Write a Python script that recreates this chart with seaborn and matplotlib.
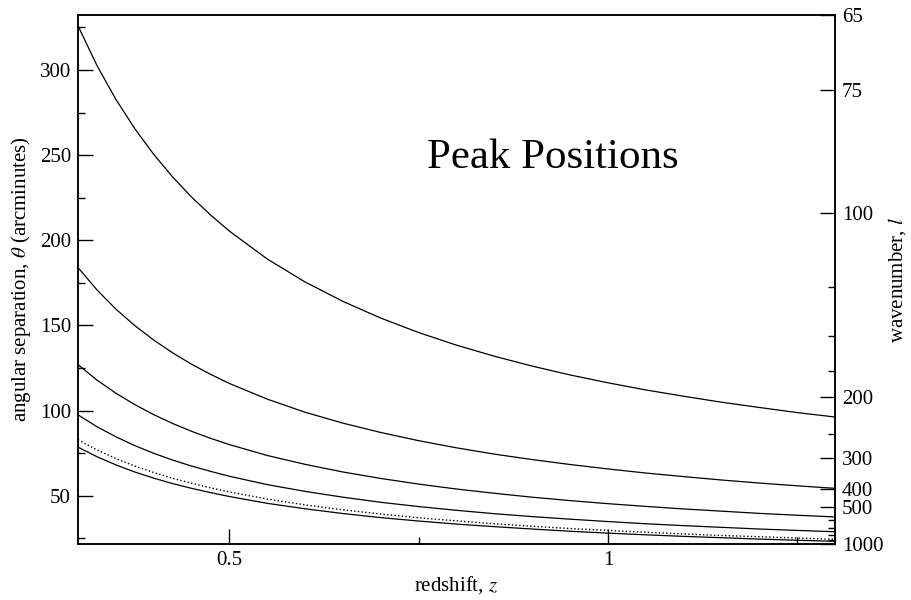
import numpy as np
import pandas as pd
import matplotlib
matplotlib.use("Agg")
import matplotlib.pyplot as plt
import seaborn as sns
from matplotlib.ticker import FixedLocator, MultipleLocator, NullFormatter

# --- datos (angulo en arcmin vs redshift) ---
redshift = [0.3, 0.325, 0.35, 0.375, 0.4, 0.425, 0.45, 0.475, 0.5, 0.55, 0.6, 0.65, 0.7,
            0.75, 0.8, 0.85, 0.9, 0.95, 1.0, 1.05, 1.1, 1.15, 1.2, 1.25, 1.3]
peak_1 = [326.0, 302.7, 282.8, 265.6, 250.5, 237.2, 225.4, 214.9, 205.4, 189.0, 175.5, 164.1, 154.3,
          145.8, 138.4, 131.9, 126.1, 120.9, 116.3, 112.1, 108.4, 104.9, 101.8, 98.8, 96.2]
peak_2 = [184.0, 170.9, 159.6, 149.9, 141.4, 133.9, 127.2, 121.3, 115.9, 106.7, 99.0, 92.6, 87.1,
          82.3, 78.1, 74.4, 71.2, 68.3, 65.7, 63.3, 61.2, 59.2, 57.4, 55.8, 54.3]
peak_3 = [127.0, 117.9, 110.2, 103.5, 97.6, 92.4, 87.8, 83.7, 80.0, 73.6, 68.4, 63.9, 60.1,
          56.8, 53.9, 51.4, 49.1, 47.1, 45.3, 43.7, 42.2, 40.9, 39.6, 38.5, 37.5]
peak_4 = [97.5, 90.5, 84.6, 79.4, 74.9, 70.9, 67.4, 64.3, 61.4, 56.5, 52.5, 49.1, 46.1,
          43.6, 41.4, 39.4, 37.7, 36.2, 34.8, 33.5, 32.4, 31.4, 30.4, 29.6, 28.8]
dotted = [82.8, 76.9, 71.8, 67.4, 63.6, 60.2, 57.3, 54.6, 52.2, 48.0, 44.6, 41.7, 39.2,
          37.0, 35.2, 33.5, 32.0, 30.7, 29.6, 28.5, 27.5, 26.6, 25.9, 25.1, 24.4]
peak_5 = [78.5, 72.9, 68.1, 63.9, 60.3, 57.1, 54.3, 51.8, 49.5, 45.5, 42.3, 39.5, 37.1,
          35.1, 33.3, 31.8, 30.4, 29.1, 28.0, 27.0, 26.1, 25.3, 24.5, 23.8, 23.2]

series = {"p1": peak_1, "p2": peak_2, "p3": peak_3, "p4": peak_4, "dot": dotted, "p5": peak_5}

# ticks del eje derecho (numero de onda l)
l_major = [65, 75, 100, 200, 300, 400, 500, 1000]
l_minor = [125, 150, 175, 250, 600, 700, 800, 900]
ARCMIN = 21600.0

sns.set_style("white")
plt.rcParams['font.family'] = ['Liberation Serif', 'DejaVu Serif']
plt.rcParams['mathtext.fontset'] = 'stix'
plt.rcParams['text.color'] = 'black'
plt.rcParams['axes.labelcolor'] = 'black'
plt.rcParams['xtick.color'] = 'black'
plt.rcParams['ytick.color'] = 'black'

fig = plt.figure(figsize=(9.12, 6), dpi=100)
ax = fig.add_axes([0.0855, 0.0933, 0.8301, 0.8817])

rows = []
for name, vals in series.items():
    for z, t in zip(redshift, vals):
        rows.append({"z": z, "theta": t, "serie": name})
df = pd.DataFrame(rows)

for name in series:
    sub = df[df["serie"] == name]
    sns.lineplot(data=sub, x="z", y="theta", ax=ax, color="black",
                 linewidth=0.9 if name != "dot" else 1.0,
                 linestyle=":" if name == "dot" else "-")

ax.set_xlim(0.3, 1.3)
ax.set_ylim(ARCMIN / 1000, ARCMIN / 65)

ax.xaxis.set_major_locator(FixedLocator([0.5, 1.0]))
ax.set_xticklabels(["0.5", "1"])
ax.xaxis.set_minor_locator(FixedLocator([0.75, 1.25]))
ax.yaxis.set_major_locator(MultipleLocator(50))
ax.yaxis.set_minor_locator(MultipleLocator(25))

ax.tick_params(which="both", direction="in", top=False, right=False,
               left=True, bottom=True, labelsize=15, pad=5, colors="black")
ax.tick_params(which="major", length=10.5, width=1.0)
ax.tick_params(which="minor", length=5, width=1.0)

for s in ax.spines.values():
    s.set_color("black")
    s.set_linewidth(1.1)

ax.set_xlabel(r"redshift, $z$", fontsize=15, labelpad=3)
ax.set_ylabel(r"angular separation, $\theta$ (arcminutes)", fontsize=15, labelpad=5)

# eje derecho: l = 21600 / theta
ax2 = ax.twinx()
ax2.set_ylim(ax.get_ylim())
ax2.yaxis.set_major_locator(FixedLocator([ARCMIN / l for l in l_major]))
ax2.set_yticklabels([str(l) for l in l_major])
ax2.yaxis.set_minor_locator(FixedLocator([ARCMIN / l for l in l_minor]))
ax2.yaxis.set_minor_formatter(NullFormatter())
ax2.tick_params(which="both", direction="in", right=True, left=False,
                labelsize=15, pad=5, colors="black")
ax2.tick_params(which="major", length=10.5, width=1.0)
ax2.tick_params(which="minor", length=5, width=1.0)
for s in ax2.spines.values():
    s.set_color("black")
    s.set_linewidth(1.1)
ax2.set_ylabel(r"wavenumber, $l$", fontsize=15, labelpad=2)

ax.text(0.627, 0.73, "Peak Positions", transform=ax.transAxes,
        fontsize=31, ha="center", va="center")

fig.savefig("out.png", dpi=100)
plt.close(fig)
